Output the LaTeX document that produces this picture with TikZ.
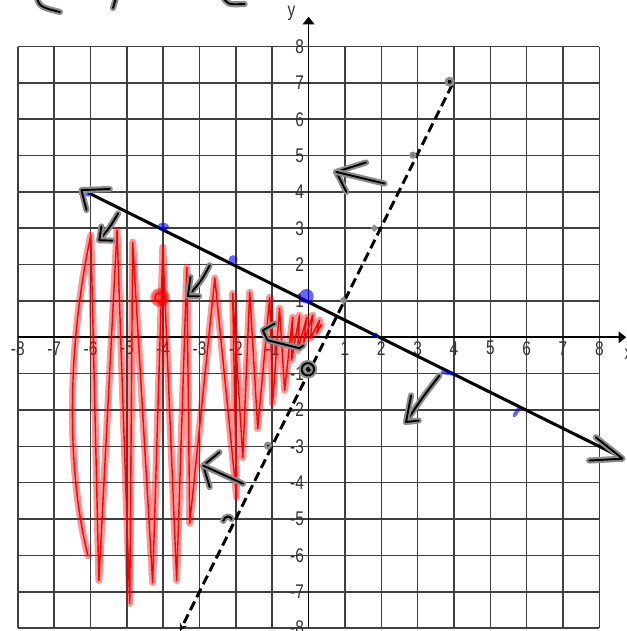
\documentclass[tikz,border=0pt]{standalone}
\usepackage{fontspec}
\setmainfont{Liberation Sans}
\usetikzlibrary{arrows.meta}
\newcommand{\narrow}[1]{\scalebox{0.78}[1]{#1}}
\tikzset{
  gridline/.style={draw=black!75, line width=1.2pt},
  axisline/.style={draw=black, line width=1.4pt, -{Triangle[length=6pt,width=9pt]}},
  ticklabel/.style={font=\fontsize{15.5}{15.5}\selectfont, text=black!80, inner sep=0pt},
  solidline/.style={draw=black, line width=2.4pt},
  dashline/.style={draw=black, line width=2.3pt, dash pattern=on 7.5pt off 3.8pt},
  ink/.style={draw=black, line width=1.5pt, line cap=round, line join=round,
    preaction={draw=black!45, line width=4.8pt, line cap=round, line join=round}},
  redink/.style={draw=red, line width=1.1pt, line cap=round, line join=round,
    preaction={draw=red, draw opacity=0.4, line width=5.5pt, line cap=round, line join=round}},
  inkdot/.style={fill=black, draw=black!45, line width=2.2pt},
  bluedot/.style={fill=blue, fill opacity=0.6},
  bluestroke/.style={draw=blue, draw opacity=0.6, line width=3pt, line cap=round},
}
\begin{document}
\begin{tikzpicture}
\path[fill=white, use as bounding box] (-8.49,-8.08) rectangle (8.74,9.28);
% grid and axes
\draw[gridline] (-8,-8) grid (8,8);
\draw[axisline] (-8,0) -- (8.74,0);
\draw[axisline] (0,-8) -- (0,8.82);
\node[ticklabel] (xname) at (8.8,-0.47) {\narrow{x}};
\node[ticklabel] (yname) at (-0.47,8.9) {\narrow{y}};
\foreach \k in {-8,...,-1,1,2,...,8} {
  \node[ticklabel] (xl\k) at (\k,-0.3) {\narrow{\k}};
  \node[ticklabel, anchor=east] (yl\k) at (-0.12,\k) {\narrow{\k}};
}
% shading scribble
\draw[redink] (-6.07,-6.01) .. controls (-6.7,-3.5) and (-6.6,0) .. (-5.99,2.81)
  -- (-5.77,-6.69) -- (-5.27,2.95) -- (-4.92,-7.32) -- (-4.84,2.62)
  -- (-4.29,-6.75) -- (-4.01,2.48) -- (-3.63,-6.69) -- (-3.35,1.93)
  -- (-3.27,-5.12) -- (-2.58,1.63) -- (-1.98,-4.41) -- (-2.09,1.21)
  -- (-1.81,-3.31) -- (-1.62,1.24) -- (-1.40,-2.51) -- (-1.07,1.10)
  -- (-0.99,-1.82) -- (-0.80,0.80) -- (-0.66,-1.46) -- (-0.44,0.55)
  -- (-0.47,-0.63) -- (-0.25,0.61) -- (-0.30,-0.36) -- (-0.05,0.55)
  -- (-0.14,-0.17) -- (0.11,0.61) -- (0.05,-0.03) -- (0.30,0.47)
  -- (0.22,0.11) -- (0.35,0.35);
\draw[redink] (-4.09,1.09) circle (0.14);
\fill[red, opacity=0.4] (-4.09,1.09) circle (0.27);
% the two lines
\coordinate (sa) at (-6.07,3.98);
\coordinate (sb) at (8.64,-3.32);
\coordinate (da) at (3.95,6.95);
\coordinate (db) at (-3.54,-8.08);
\draw[solidline] (sa) -- (sb);
\draw[dashline, -{Stealth[length=6pt,width=6pt]}] (da) -- (db);
% points on the solid line
\fill[bluedot] (-6.07,3.99) circle (0.12);
\fill[bluedot] (-4.0,3.04) ellipse (0.16 and 0.11);
\fill[bluedot] (-2.08,2.14) circle (0.12);
\fill[bluedot] (-0.06,1.13) circle (0.2);
\fill[bluedot] (1.84,0.05) circle (0.08);
\draw[bluestroke] (3.68,-0.96) -- (3.96,-1.0);
\draw[bluestroke] (5.66,-2.15) -- (5.78,-1.97);
% points on the dashed line
\draw[inkdot] (3.88,7.03) circle (0.1);
\draw[inkdot] (2.87,5.01) circle (0.06);
\draw[inkdot] (1.81,3.0) circle (0.05);
\draw[inkdot] (0.96,1.02) circle (0.05);
\draw[ink] (-0.02,-0.88) circle (0.17);
\fill (-0.02,-0.88) circle (0.07);
\draw[inkdot] (-1.12,-2.98) circle (0.07);
\draw[ink] (-2.35,-5.05) .. controls (-2.3,-4.9) and (-2.15,-4.9) .. (-2.12,-5.0);
% hand drawn arrows
\draw[ink] (-5.47,4.08) -- (-6.25,4.05) -- (-6.11,3.50);
\draw[ink] (7.90,-2.75) -- (8.64,-3.34) -- (7.72,-3.39);
\draw[ink] (-5.24,3.41) .. controls (-5.45,3.05) .. (-5.76,2.67);
\draw[ink] (-5.70,3.05) -- (-5.76,2.67) -- (-5.40,2.66);
\draw[ink] (-2.72,1.98) .. controls (-2.95,1.55) .. (-3.32,1.13);
\draw[ink] (-3.25,1.66) -- (-3.32,1.13) -- (-3.01,1.13);
\draw[ink] (-0.93,0.38) -- (-1.26,0.19) -- (-1.13,-0.08) -- (-0.25,-0.30) -- (-0.14,-0.22);
\draw[ink] (1.58,4.81) -- (0.76,4.55) -- (1.04,4.00);
\draw[ink] (0.76,4.55) -- (2.09,4.23);
\draw[ink] (3.60,-1.05) .. controls (3.1,-1.7) .. (2.68,-2.33);
\draw[ink] (2.82,-1.60) -- (2.68,-2.33) -- (3.03,-2.29);
\draw[ink] (-2.45,-3.16) -- (-2.90,-3.53) -- (-2.72,-4.12);
\draw[ink] (-2.90,-3.53) -- (-1.80,-4.03);
% writing cut off at the top
\draw[ink] (-7.5,9.6) .. controls (-7.45,9.1) .. (-6.84,8.95);
\draw[ink] (-5.22,9.6) -- (-5.38,9.06);
\draw[ink] (-2.4,9.45) .. controls (-2.25,9.15) .. (-1.76,9.17);
\end{tikzpicture}
\end{document}
